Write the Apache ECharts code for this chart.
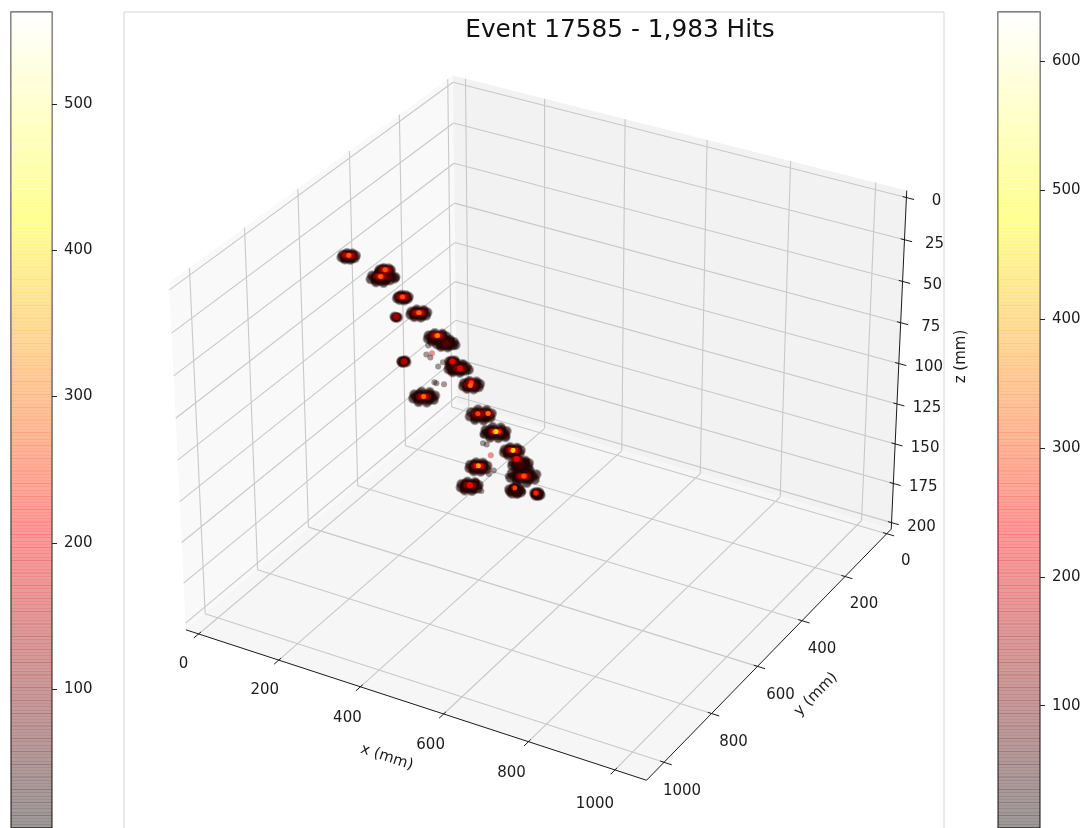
<!DOCTYPE html>
<html><head><meta charset="utf-8">
<style>html,body{margin:0;padding:0;background:#fff;overflow:hidden}#c{width:1081px;height:828px}</style>
<script src="https://cdn.jsdelivr.net/npm/echarts@6/dist/echarts.min.js"></script></head>
<body><div id="c"></div>
<script>
const titleText='Event 17585 - 1,983 Hits';
const xTicks=[0,200,400,600,800,1000];
const yTicks=[0,200,400,600,800,1000];
const zTicks=[0,25,50,75,100,125,150,175,200];
const xLim=[-10,1050], yLim=[1050,0], zLim=[200,0];
const leftBarTicks=[100,200,300,400,500], rightBarTicks=[100,200,300,400,500,600];
const leftBarRange=[5,562.9], rightBarRange=[5,638.5];
// hit clusters: centre in mm, then per-cluster hits as dx,dy,charge
const blobX=[41,131,121,174,157,213,257,278,174,295,307,341,223,363,399,440,460,467,356,334,447,501];
const blobY=[525,525,525,525,525,525,525,525,525,525,525,525,525,525,525,525,525,525,525,525,525,525];
const blobZ=[40,42.6,47.5,55.8,68.6,62.7,74.2,76.2,94.7,86.6,89.3,97.2,113,113.9,122.1,130.7,137.2,144,146.6,160.3,154.5,152.5];
const hits01=[15,0,20,-15,0,15,0,15,12,0,-15,25,11,11,18,-11,-11,22,11,-11,30,-11,11,12,7,0,60,-7,2,50,0,8,45,1,-8,80,-3,-5,200,-1,-3,240,-4,-3,290,-2,-6,320,-2,-4,360,-3,-4,340,5,5,10,-5,5,14,5,-5,12,-5,-5,16,10,3,12,-10,-3,10,3,-10,14,-3,10,18,7,-8,130,-13,0,140,3,-6,190,-9,-2,200];
const hits02=[13,0,18,-13,1,14,0,13,20,1,-13,12,9,9,25,-9,-9,15,9,-9,22,-9,9,16,5,0,70,-5,1,60,0,6,80,-2,-6,190,-1,-4,280,-3,-3,320,-2,-5,350,-2,-4,330,4,4,12,-4,4,10,4,-4,14,-4,-4,16,9,2,12,-9,-2,10,6,-9,140,-10,-1,130,2,-7,200,-6,-3,210];
const hits03=[22,0,12,-22,1,18,1,22,15,-1,-22,20,16,16,14,-16,-16,10,16,-16,25,-16,16,18,26,-12,10,24,-18,15,12,4,30,-12,-5,35,5,12,25,-4,-13,20,6,-3,40,-6,5,30,0,0,110,-5,-2,190,-3,-5,270,-6,-6,330,-4,-4,370,-5,-5,340,-3,-4,300,14,-10,90,8,8,10,-8,8,14,8,-8,12,-8,-8,16,15,4,12,-15,-4,10,4,-15,14,-4,15,18,12,-4,14,-12,6,16,0,6,12,3,-9,130,-13,-1,140,-1,-7,200,-9,-3,190];
const hits04=[12,0,22,-12,0,15,0,12,18,0,-12,14,9,9,20,-9,-9,25,9,-9,16,-9,9,12,5,1,90,-5,0,80,0,5,70,-2,-3,220,-1,-2,290,-3,-1,330,-2,-3,350,-2,-2,310,4,4,10,-4,4,12,4,-4,14,-4,-4,10,8,2,16,-8,-2,12,5,-7,150,-9,1,140,1,-5,210,-5,-1,200];
const hits05=[4,0,40,-4,1,30,0,4,25,1,-4,50,0,0,140,-1,-1,170,2,2,40];
const hits06=[18,0,14,-18,1,20,0,18,12,1,-18,24,13,13,16,-13,-13,18,13,-13,10,-13,13,22,9,0,35,-9,1,30,0,9,45,1,-9,60,5,-4,120,-5,4,100,-2,-4,220,0,-3,300,-3,-2,340,-1,-4,370,-2,-3,350,-1,-3,320,6,6,12,-6,6,10,6,-6,14,-6,-6,12,12,4,16,-12,-4,10,4,-12,12,-4,12,18,6,-8,130,-10,2,150,2,-6,200,-6,-1,210];
const hits07=[20,0,15,-20,1,12,0,20,18,1,-20,20,14,14,22,-14,-14,16,14,-14,12,-14,14,10,10,0,30,-10,2,40,0,10,28,1,-10,50,5,-6,110,-6,-4,130,-4,-9,230,-2,-7,300,-5,-6,350,-3,-9,380,-3,-8,400,-4,-7,360,7,7,12,-7,7,14,7,-7,10,-7,-7,16,14,4,12,-14,-4,14,4,-14,10,-4,14,12,4,-12,140,-12,-4,150,0,-10,210,-8,-6,220];
const hits08=[18,0,12,-18,0,18,0,18,20,0,-18,14,13,13,10,-13,-13,22,13,-13,15,-13,13,16,22,-4,12,8,2,30,-8,2,25,0,9,35,0,-8,40,3,3,80,-3,-2,70,5,-3,60,6,6,14,-6,6,10,6,-6,12,-6,-6,16,12,4,10,-12,-4,14,4,-12,12,-4,12,16];
const hits09=[6,0,30,-6,0,25,0,6,35,0,-6,20,4,-4,45,-4,4,40,0,0,130,1,-1,190,-1,0,160,2,3,20,-2,-3,25];
const hits10=[9,0,20,-9,0,16,0,9,25,0,-9,18,6,6,22,-6,-6,30,3,-2,90,-3,-2,170,-3,-3,220,-2,-4,250,3,3,15,-3,3,12,3,-3,18];
const hits11=[20,0,14,-20,1,12,0,20,16,1,-20,18,14,14,10,-14,-14,20,14,-14,16,-14,14,22,24,-6,12,-8,12,18,10,2,25,-10,1,35,0,10,30,0,-10,28,5,-3,90,4,-2,170,6,-1,210,5,-2,240,7,7,12,-7,7,14,7,-7,10,-7,-7,16,14,5,12,-14,-5,14,4,-14,10,-4,14,12,12,-6,120,-2,2,130];
const hits12=[18,0,15,-18,1,12,0,18,18,1,-18,14,13,13,22,-13,-13,10,13,-13,16,-13,13,24,8,2,35,-8,2,40,0,8,30,0,-8,45,-6,-8,220,-7,-9,290,-5,-8,340,-2,2,250,-1,3,330,-1,2,370,-2,3,350,-8,-14,200,6,6,12,-6,6,14,6,-6,10,-6,-6,12,12,4,14,-12,-4,16,4,-12,10,-4,12,14,6,-1,130,-10,4,120,-12,-12,150];
const hits13=[24,0,12,-24,1,18,1,24,15,-1,-24,12,17,17,18,-17,-17,14,17,-17,22,-17,17,10,12,0,30,-12,1,25,0,12,35,0,-12,28,6,-5,70,-6,5,60,-3,-2,200,-1,-1,270,-3,-1,330,-2,-2,380,-2,-1,350,8,8,12,-8,8,14,8,-8,10,-8,-8,16,16,5,12,-16,-5,14,5,-16,12,-5,16,10,16,-8,14,-16,8,16,6,-6,140,-10,4,130,2,-4,200,-6,1,210];
const hits14=[24,0,14,-24,0,12,0,24,16,0,-24,18,17,17,12,-17,-17,20,17,-17,15,-17,17,22,12,1,25,-12,0,32,0,12,28,0,-12,40,6,6,60,-7,6,45,10,-13,240,11,-12,310,9,-13,350,10,-14,380,11,-13,340,-8,-1,220,-9,-2,290,-8,-2,330,-7,-1,300,8,8,12,-8,8,10,8,-8,14,-8,-8,16,16,5,10,-16,-5,12,5,-16,14,-5,16,12,18,-6,16,16,-16,150,4,-11,130,-14,2,140,-3,-4,170];
const hits15=[24,0,16,-24,1,12,1,24,12,-1,-24,20,17,17,14,-17,-17,16,17,-17,24,-17,17,10,28,6,12,12,0,30,-12,1,28,0,12,35,0,-12,45,6,-6,100,-2,-4,230,0,-3,330,-2,-3,410,-1,-5,460,-1,-4,490,-2,-4,470,-1,-3,430,8,8,14,-8,8,10,8,-8,12,-8,-8,14,16,5,12,-16,-5,16,5,-16,10,-5,16,12,16,-8,14,-16,8,12,7,-8,170,-9,0,180,3,-6,260,-5,-2,270,5,-7,310,-4,-1,320];
const hits16=[18,0,14,-18,1,18,0,18,12,1,-18,16,13,13,20,-13,-13,12,13,-13,14,-13,13,18,8,0,40,-8,2,30,0,8,45,0,-8,70,-2,-5,230,0,-4,320,-2,-4,420,-1,-6,460,-1,-5,490,-1,-4,450,6,6,12,-6,6,14,6,-6,10,-6,-6,12,12,4,10,-12,-4,14,4,-12,16,-4,12,12,7,-9,170,-9,-1,170,3,-7,260,-5,-3,260];
const hits17=[18,0,12,-18,1,16,0,18,20,1,-18,10,13,13,14,-13,-13,16,13,-13,22,-13,13,15,8,0,22,-8,1,26,0,8,30,0,-8,25,-18,-14,210,-17,-16,240,-19,-15,260,2,1,60,-3,2,50,6,6,12,-6,6,10,6,-6,14,-6,-6,12,12,4,16,-12,-4,10,4,-12,14,-4,12,12,-12,-18,130,-22,-12,140];
const hits18=[28,0,12,-28,1,14,1,28,18,-1,-28,15,20,20,10,-20,-20,12,20,-20,20,-20,20,16,14,0,22,-14,1,28,0,14,26,0,-14,30,7,-7,80,-7,7,70,0,-2,210,2,-1,270,0,0,310,1,-1,350,1,0,330,-1,-1,290,9,9,12,-9,9,14,9,-9,10,-9,-9,16,18,6,12,-18,-6,14,6,-18,10,-6,18,12,18,-9,14,-18,9,16,0,0,20,8,-4,150,-8,4,150,4,-2,220,-4,2,230];
const hits19=[20,0,15,-20,1,12,1,20,18,-1,-20,14,14,14,22,-14,-14,10,14,-14,18,-14,14,24,10,0,30,-10,1,26,0,10,35,0,-10,28,5,-4,120,-4,-5,240,-2,-3,330,-3,-4,400,-2,-5,440,-3,-4,420,-2,-4,380,7,7,12,-7,7,14,7,-7,10,-7,-7,16,14,5,12,-14,-5,14,5,-14,10,-5,14,12,6,-8,170,-10,0,170,2,-6,250,-6,-2,260];
const hits20=[20,0,10,-20,1,15,0,20,18,1,-20,12,14,14,16,-14,-14,14,14,-14,20,-14,14,18,10,0,24,-10,0,28,0,10,30,0,-10,22,-3,-5,190,-1,-3,210,-2,-4,235,-1,-4,250,-2,-3,220,7,7,14,-7,7,12,7,-7,10,-7,-7,16,14,5,10,-14,-5,12,5,-14,14,-5,14,16,5,-7,150,-9,-1,150];
const hits21=[14,0,18,-14,2,22,0,14,25,1,-14,15,10,10,30,-10,-10,12,-8,9,20,8,-8,16,5,2,35,-4,-4,40,-8,-9,210,-6,-8,290,-7,-10,320,-6,-9,340,4,4,12,-5,5,16,5,-4,10,-4,-6,14,9,5,14,-9,-6,12];
const hits22=[8,0,12,-8,0,16,0,8,10,0,-8,20,6,6,18,-6,-6,14,2,1,30,-2,1,25,-5,-3,180,-4,-2,250,-5,-2,310,3,3,14,-3,3,10,3,-3,12];
const allBlobHits=[hits01,hits02,hits03,hits04,hits05,hits06,hits07,hits08,hits09,hits10,hits11,hits12,hits13,hits14,hits15,hits16,hits17,hits18,hits19,hits20,hits21,hits22];
// isolated hits
const isoX=[235,244,230,240,259,271,254,273,387,368,368,377,394,382,351,358,363,467,428,249];
const isoY=[525,525,525,525,525,525,525,525,525,525,525,525,525,525,525,525,525,525,525,525];
const isoZ=[80.5,84.7,86.4,87.5,91.6,88.3,102.3,101.5,137,125.7,131,131,146,149,156,158.5,161,153.7,146.8,102];
const isoQ=[12,190,18,10,15,20,8,25,210,12,15,10,18,14,20,12,16,10,14,10];
// small screen nudges of the tick labels (style, not data)
const xLabelNudge=[[-5,0],[-4,0],[-3,1],[-3,1],[-7,1],[-10,4]];
const yLabelNudge=[[1,0],[1,1],[2,1],[5,2],[4,2],[0,2]];

const vU=[0.8660254,0.5,0],vV=[-0.25,0.4330127,0.8660254],vW=[0.4330127,-0.75,0.5];
const bx=1.1429,bz=0.8571,E=1/48;
function proj(nx,ny,nz){
  const q=[(nx-.5)*bx,(ny-.5)*bx,(nz-.5)*bz];
  const dot=(a)=>a[0]*q[0]+a[1]*q[1]+a[2]*q[2];
  const D=10-dot(vW);
  return [dot(vU)/D,dot(vV)/D];
}
const nX=x=>(x-xLim[0])/(xLim[1]-xLim[0]);
const nY=y=>(y-yLim[0])/(yLim[1]-yLim[0]);
const nZ=z=>(z-zLim[0])/(zLim[1]-zLim[0]);
const lo=-E,hi=1+E;
function seg(a,b){const p=proj(a[0],a[1],a[2]),r=proj(b[0],b[1],b[2]);return [p[0],p[1],r[0],r[1]];}
const gridSegs=[],tickSegs=[],axisSegs=[],labels=[];
xTicks.forEach((t,i)=>{const n=nX(t);
  gridSegs.push(seg([n,lo,lo],[n,hi,lo]),seg([n,hi,lo],[n,hi,hi]));
  tickSegs.push(seg([n,lo+1/120,lo],[n,lo-1/60,lo]));
  labels.push({p:proj(n,lo,lo),t:String(t),dx:-10+xLabelNudge[i][0],dy:30+xLabelNudge[i][1]});});
yTicks.forEach((t,i)=>{const n=nY(t);
  gridSegs.push(seg([lo,n,lo],[hi,n,lo]),seg([lo,n,lo],[lo,n,hi]));
  tickSegs.push(seg([hi-1/120,n,lo],[hi+1/60,n,lo]));
  labels.push({p:proj(hi,n,lo),t:String(t),dx:18+yLabelNudge[i][0],dy:27+yLabelNudge[i][1]});});
zTicks.forEach(t=>{const n=nZ(t);
  gridSegs.push(seg([lo,lo,n],[lo,hi,n]),seg([lo,hi,n],[hi,hi,n]));
  tickSegs.push(seg([hi-1/120,hi,n],[hi+1/60,hi,n]));
  labels.push({p:proj(hi,hi,n),t:String(t),dx:30,dy:4});});
axisSegs.push(seg([lo,lo,lo],[hi,lo,lo]),seg([hi,lo,lo],[hi,hi,lo]),seg([hi,hi,lo],[hi,hi,hi]));
const titles=[
 {p:proj(nX(500),lo,lo),t:'x (mm)',dx:-15,dy:57,r:-18*Math.PI/180},
 {p:proj(hi,nY(500),lo),t:'y (mm)',dx:36,dy:51,r:45*Math.PI/180},
 {p:proj(hi,hi,nZ(100)),t:'z (mm)',dx:62,dy:-7,r:Math.PI/2}];
const panes=[
 {c:'#f9f9f9',pts:[[lo,lo,lo],[lo,hi,lo],[lo,hi,hi],[lo,lo,hi]]},
 {c:'#f2f2f2',pts:[[lo,hi,lo],[hi,hi,lo],[hi,hi,hi],[lo,hi,hi]]},
 {c:'#f6f6f6',pts:[[lo,lo,lo],[hi,lo,lo],[hi,hi,lo],[lo,hi,lo]]}];
// hits
const hitRows=[];
allBlobHits.forEach((h,i)=>{for(let k=0;k<h.length;k+=3){
  const p=proj(nX(blobX[i]+h[k]),nY(blobY[i]+h[k+1]),nZ(blobZ[i]));hitRows.push([p[0],p[1],h[k+2],1]);}});
isoX.forEach((x,i)=>{const p=proj(nX(x),nY(isoY[i]),nZ(isoZ[i]));hitRows.push([p[0],p[1],isoQ[i],0]);});
hitRows.sort((a,b)=>a[2]-b[2]);
function hot(t){t=Math.max(0,Math.min(1,t));
  return [Math.min(1,0.0416+t/0.3651*0.9584),Math.max(0,Math.min(1,(t-0.365)/0.381)),Math.max(0,Math.min(1,(t-0.746)/0.254))].map(v=>Math.round(v*255));}
function hitPaint(p){const c=hot(p.value[2]/700).join(',');
  if(!p.value[3])return `rgba(${c},0.5)`;
  return new echarts.graphic.RadialGradient(0.5,0.5,0.5,[{offset:0,color:`rgba(${c},0.9)`},{offset:0.65,color:`rgba(${c},0.8)`},{offset:1,color:`rgba(${c},0)`}]);}
const hitSize=v=>!v[3]?6:(v[2]>280?5.5:v[2]>180?7:v[2]>100?8:v[2]>40?8:11.5);
const FONT='DejaVu Sans';
function lineSeries(data,stroke,w,z){return {type:'custom',coordinateSystem:'cartesian2d',xAxisIndex:0,yAxisIndex:0,silent:true,animation:false,z,data,
  renderItem:(p,api)=>{const a=api.coord([api.value(0),api.value(1)]),b=api.coord([api.value(2),api.value(3)]);
   return {type:'line',shape:{x1:a[0],y1:a[1],x2:b[0],y2:b[1]},style:{stroke,lineWidth:w,fill:null}};}};}
function textSeries(items,size){return {type:'custom',coordinateSystem:'cartesian2d',xAxisIndex:0,yAxisIndex:0,silent:true,animation:false,z:6,
  data:items.map(l=>[l.p[0],l.p[1]]),
  renderItem:(p,api)=>{const l=items[p.dataIndex],a=api.coord([api.value(0),api.value(1)]);
   return {type:'text',x:a[0]+l.dx,y:a[1]+l.dy,rotation:l.r||0,style:{text:l.t,fontFamily:FONT,fontSize:size,fill:'#1c1c1c',textAlign:'center',textVerticalAlign:'middle'}};}};}
function barLevels(range){const out=[],n=256,s=(range[1]-range[0])/n;for(let i=0;i<n;i++)out.push([range[0]+i*s,range[0]+(i+1)*s,i/(n-1)]);return out;}
function barSeries(idx,range){return {type:'custom',coordinateSystem:'cartesian2d',xAxisIndex:idx,yAxisIndex:idx,silent:true,animation:false,z:2,data:barLevels(range),
  renderItem:(p,api)=>{const a=api.coord([0,api.value(1)]),b=api.coord([1,api.value(0)]),c=hot(api.value(2));
   return {type:'rect',shape:{x:a[0],y:a[1]-0.18,width:b[0]-a[0],height:b[1]-a[1]+0.36},style:{fill:`rgba(${c[0]},${c[1]},${c[2]},0.4)`,stroke:null}};}};}
function barY(idx,range,ticks){return {type:'value',gridIndex:idx,min:range[0],max:range[1],position:'right',
  splitLine:{show:false},axisLine:{show:false,onZero:false},
  axisTick:{show:true,length:5,inside:false,customValues:ticks,lineStyle:{color:'#222',width:1}},
  axisLabel:{show:true,margin:12,fontFamily:FONT,fontSize:15,color:'#1c1c1c',customValues:ticks}};}
const chart=echarts.init(document.getElementById('c'),null,{renderer:'canvas'});
chart.setOption({animation:false,backgroundColor:'#fff',
 title:{text:titleText,left:615,top:13,textAlign:'center',textStyle:{fontFamily:FONT,fontSize:24.8,fontWeight:'normal',color:'#111'}},
 grid:[
  {left:124,top:12,width:820,height:820,outerBoundsMode:'none',show:true,borderColor:'#d6d6d6',borderWidth:1,backgroundColor:'transparent'},
  {left:11,top:12,width:41,height:816,outerBoundsMode:'none',show:true,borderColor:'#4a4a4a',borderWidth:1.3,backgroundColor:'transparent'},
  {left:998,top:12,width:42,height:816,outerBoundsMode:'none',show:true,borderColor:'#4a4a4a',borderWidth:1.3,backgroundColor:'transparent'}],
 xAxis:[{type:'value',gridIndex:0,min:-0.095,max:0.09,show:false},
        {type:'value',gridIndex:1,min:0,max:1,show:false},
        {type:'value',gridIndex:2,min:0,max:1,show:false}],
 yAxis:[{type:'value',gridIndex:0,min:-0.095,max:0.09,show:false},
        barY(1,leftBarRange,leftBarTicks),barY(2,rightBarRange,rightBarTicks)],
 series:[
  {type:'custom',coordinateSystem:'cartesian2d',xAxisIndex:0,yAxisIndex:0,silent:true,animation:false,z:1,data:panes.map((p,i)=>[0,0,i]),
   renderItem:(p,api)=>{const pane=panes[p.dataIndex];
     return {type:'polygon',shape:{points:pane.pts.map(c=>api.coord(proj(c[0],c[1],c[2])))},style:{fill:pane.c,stroke:null}};}},
  lineSeries(gridSegs,'#c8c8c8',1.1,2),
  lineSeries(axisSegs,'#1a1a1a',1,3),
  lineSeries(tickSegs,'#1a1a1a',1,3),
  textSeries(labels,15),textSeries(titles,15),
  {type:'scatter',xAxisIndex:0,yAxisIndex:0,silent:true,animation:false,z:5,
   data:hitRows,symbol:'circle',symbolSize:hitSize,
   itemStyle:{color:hitPaint}},
  barSeries(1,leftBarRange),barSeries(2,rightBarRange)]
});
</script></body></html>
